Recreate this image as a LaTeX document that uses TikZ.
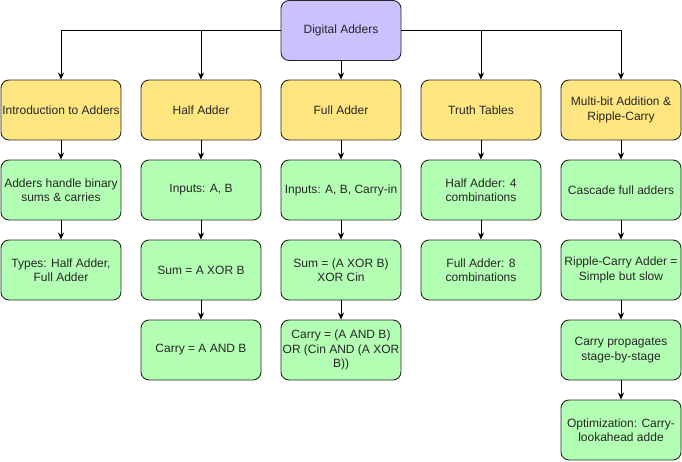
\documentclass[tikz,border=0pt]{standalone}
\usepackage{fontspec}
\setmainfont{Liberation Sans}
\usetikzlibrary{arrows.meta}
\definecolor{topc}{HTML}{CCC0FF}
\definecolor{secc}{HTML}{FFE680}
\definecolor{leafc}{HTML}{B3FFB3}
\begin{document}
\begin{tikzpicture}[x=1pt,y=-1pt,
  box/.style={draw=black!85, line width=0.9pt, rounded corners=8pt, minimum width=120pt, minimum height=60pt, align=center, inner sep=1pt, font=\fontsize{12}{14.5}\selectfont, text=black!85},
  topbox/.style={box, fill=topc},
  secbox/.style={box, fill=secc},
  leafbox/.style={box, fill=leafc},
  arr/.style={-{Stealth[length=7pt,width=6pt]}, line width=0.9pt, draw=black}]
\useasboundingbox (0,0) rectangle (682,462);
\node[topbox] (top) at (341,30.5) {Digital Adders};
% row 1
\node[secbox] (s1) at (61,110) {Introduction to Adders};
\node[secbox] (s2) at (201,110) {Half Adder};
\node[secbox] (s3) at (341,110) {Full Adder};
\node[secbox] (s4) at (481,110) {Truth Tables};
\node[secbox] (s5) at (621,110) {Multi-bit Addition \&\\Ripple-Carry};
% column 1
\node[leafbox] (a1) at (61,190) {Adders handle binary\\sums \& carries};
\node[leafbox] (a2) at (61,270) {Types: Half Adder,\\Full Adder};
% column 2
\node[leafbox] (b1) at (201,190) {Inputs: A, B};
\node[leafbox] (b2) at (201,270) {Sum = A XOR B};
\node[leafbox] (b3) at (201,350) {Carry = A AND B};
% column 3
\node[leafbox] (c1) at (341,190) {Inputs: A, B, Carry-in};
\node[leafbox] (c2) at (341,270) {Sum = (A XOR B)\\XOR Cin};
\node[leafbox] (c3) at (341,350) {Carry = (A AND B)\\OR (Cin AND (A XOR\\B))};
% column 4
\node[leafbox] (d1) at (481,190) {Half Adder: 4\\combinations};
\node[leafbox] (d2) at (481,270) {Full Adder: 8\\combinations};
% column 5
\node[leafbox] (e1) at (621,190) {Cascade full adders};
\node[leafbox] (e2) at (621,270) {Ripple-Carry Adder =\\Simple but slow};
\node[leafbox] (e3) at (621,350) {Carry propagates\\stage-by-stage};
\node[leafbox] (e4) at (621,430) {Optimization: Carry-\\lookahead adde};
% connectors from top
\draw[arr] (top.west) -| (s1.north);
\draw[arr] (top.west) -| (s2.north);
\draw[arr] (top.south) -- (s3.north);
\draw[arr] (top.east) -| (s4.north);
\draw[arr] (top.east) -| (s5.north);
% vertical chains
\draw[arr] (s1) -- (a1);
\draw[arr] (a1) -- (a2);
\draw[arr] (s2) -- (b1);
\draw[arr] (b1) -- (b2);
\draw[arr] (b2) -- (b3);
\draw[arr] (s3) -- (c1);
\draw[arr] (c1) -- (c2);
\draw[arr] (c2) -- (c3);
\draw[arr] (s4) -- (d1);
\draw[arr] (d1) -- (d2);
\draw[arr] (s5) -- (e1);
\draw[arr] (e1) -- (e2);
\draw[arr] (e2) -- (e3);
\draw[arr] (e3) -- (e4);
\end{tikzpicture}
\end{document}
